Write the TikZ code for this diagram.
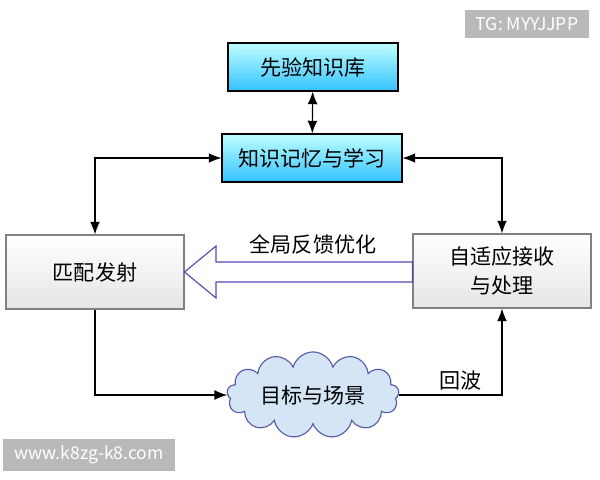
\documentclass[tikz,border=0pt]{standalone}
\usepackage{fontspec}
\setmainfont{Noto Sans CJK SC}
\usetikzlibrary{arrows.meta,positioning,shapes.symbols,calc}
\definecolor{cloudblue}{RGB}{212,230,246}
\tikzset{
	>={Latex[length=9pt,width=7pt]},
	bluebox/.style = {
			draw, thick, top color=cyan!25!white, bottom color=cyan!70!blue!80,
			minimum width=170*0.025cm, minimum height=48*0.025cm,
			font=\fontsize{15}{18}\selectfont
		},
	graybox/.style = {
			draw=gray, thick, top color=white, bottom color=gray!20,
			minimum width=178*0.025cm, minimum height=74*0.025cm, align=center,
			font=\fontsize{15}{21}\selectfont
		},
	link/.style = {thick, ->},
	watermark/.style = {fill=gray!55, text=white, font=\fontsize{12.5}{15}\selectfont, inner xsep=8pt, inner ysep=5pt}
}
\begin{document}
\begin{tikzpicture}[x=0.025cm,y=-0.025cm]
	\useasboundingbox (0,0) rectangle (600,480);
	% Knowledge boxes
	\node[bluebox] (prior) at (313,67) {先验知识库};
	\node[bluebox, minimum width=180*0.025cm] (memory) at (312,158) {知识记忆与学习};

	% Transmit and receive
	\node[graybox] (transmit) at (95,272) {匹配发射};
	\node[graybox] (receive) at (502,271) {自适应接收\\与处理};

	% Target scene
	\node[cloud, draw=gray!70!blue, thick, fill=cloudblue, cloud puffs=13, aspect=2.8,
		minimum width=172*0.025cm, minimum height=66*0.025cm,
		font=\fontsize{15}{18}\selectfont] (scene) at (313,395) {目标与场景};

	% Connectors
	\draw[thick, <->] (prior) -- (memory);
	\draw[thick, <->] (memory.west) -| (transmit.north);
	\draw[thick, <->] (memory.east) -| (receive.north);
	\draw[link] (transmit.south) |- (scene.west);
	\draw[link] (scene.east) -| node[pos=0.3, above] (echo) {\fontsize{15}{18}\selectfont 回波} (receive.south);

	% Feedback arrow
	\draw[thick, draw=gray!60!blue, fill=white]
		(receive.west |- 0,262) -- (216,262) -- (216,246) -- (transmit.east |- 0,272)
		-- (216,298) -- (216,282) -- (receive.west |- 0,282) -- cycle;
	\node[font=\fontsize{15}{18}\selectfont] (feedback) at (313,244) {全局反馈优化};

	% Watermarks
	\node[watermark] (tg) at (527,24) {TG: MYYJJPP};
	\node[watermark] (site) at (89,455) {www.k8zg-k8.com};
\end{tikzpicture}
\end{document}
